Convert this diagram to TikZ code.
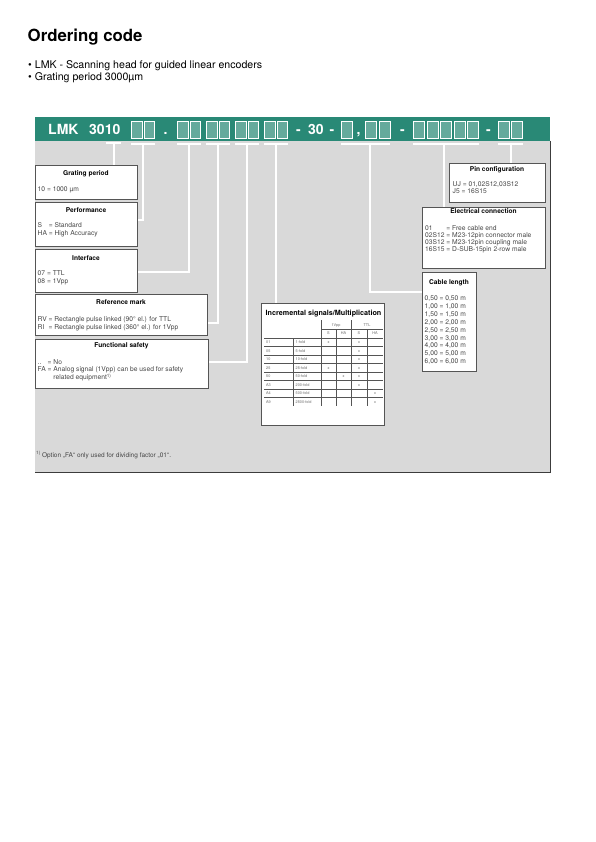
\documentclass[tikz,border=0pt]{standalone}
\usepackage{fontspec}
\setmainfont{TeX Gyre Heros}
\usetikzlibrary{calc}
\definecolor{hdteal}{RGB}{41,137,118}
\definecolor{panelgray}{RGB}{217,217,217}
\definecolor{edgegray}{RGB}{60,60,60}
\definecolor{boxborder}{RGB}{85,85,85}
\definecolor{bodygray}{RGB}{70,70,70}
\definecolor{tabgray}{RGB}{105,105,105}
\newcommand{\bodytab}[1]{\begin{tabular}[t]{@{}l@{\ }l@{}}#1\end{tabular}}
\newcommand{\onetab}[1]{\begin{tabular}[t]{@{}l@{}}#1\end{tabular}}
\newcommand{\fnmark}{\raisebox{2.6pt}{\fontsize{4.6}{5}\selectfont 1)}}
\begin{document}
\begin{tikzpicture}[x=1pt,y=-1pt,
  conn/.style={draw=white,line width=2.2pt},
  hdbox/.style={draw=white,line width=0.9pt,fill=hdteal!72!white,minimum width=10.5pt,minimum height=17.5pt,inner sep=0,anchor=north west},
  hdtxt/.style={font=\bfseries\fontsize{14}{16}\selectfont,text=white,anchor=base west,inner sep=0},
  infobox/.style={draw=boxborder,line width=0.7pt,fill=white,inner sep=0,anchor=north west},
  ttl/.style={font=\bfseries\fontsize{6.6}{7.5}\selectfont,anchor=base,inner sep=0},
  bodytxt/.style={font=\fontsize{6.7}{7.5}\selectfont,text=bodygray,anchor=base west,inner sep=0},
  tabtxt/.style={font=\fontsize{3.8}{4.2}\selectfont,text=tabgray,anchor=base west,inner sep=0},
  tabc/.style={font=\fontsize{3.8}{4.2}\selectfont,text=tabgray,anchor=base,inner sep=0},
  tabline/.style={draw=boxborder,line width=0.45pt}]
\useasboundingbox (0,0) rectangle (595,842);
% title and bullets
\node[anchor=base west,inner sep=0,font=\bfseries\fontsize{16.8}{19}\selectfont] (title) at (27.5,42) {Ordering code};
\node[anchor=base west,inner sep=0,font=\fontsize{10.6}{12}\selectfont] (bul1) at (28,68.3) {\textbullet\ LMK - Scanning head for guided linear encoders};
\node[anchor=base west,inner sep=0,font=\fontsize{10.6}{12}\selectfont] (bul2) at (28,80.3) {\textbullet\ Grating period 3000µm};
% panel and bar
\node[fill=panelgray,inner sep=0,minimum width=515pt,minimum height=331pt,anchor=north west] (panel) at (35,141) {};
\draw[draw=edgegray,line width=1.2pt] (panel.north east) -- (panel.south east) -- (panel.south west);
\node[fill=hdteal,inner sep=0,minimum width=515pt,minimum height=24pt,anchor=north west] (bar) at (35,117) {};
% header text and boxes
\node[hdtxt] (lmk) at (48,135) {LMK};
\node[hdtxt] (num) at (89,135) {3010};
\node[hdbox] (b1) at (131,121) {};
\node[hdbox] (b2) at (143.5,121) {};
\node[hdtxt] (dot) at (163.5,135) {.};
\node[hdbox] (b3) at (177,121) {};
\node[hdbox] (b4) at (189.5,121) {};
\node[hdbox] (b5) at (206,121) {};
\node[hdbox] (b6) at (218.5,121) {};
\node[hdbox] (b7) at (235,121) {};
\node[hdbox] (b8) at (247.5,121) {};
\node[hdbox] (b9) at (264,121) {};
\node[hdbox] (b10) at (276.5,121) {};
\node[hdtxt] (m1) at (296,135) {-};
\node[hdtxt] (thirty) at (308,135) {30};
\node[hdtxt] (m2) at (329.5,135) {-};
\node[hdbox,minimum width=11pt] (c1) at (341,121) {};
\node[hdtxt] (comma) at (356.5,135) {,};
\node[hdbox,minimum width=11pt] (c2) at (365,121) {};
\node[hdbox,minimum width=11pt] (c3) at (378.5,121) {};
\node[hdtxt] (m3) at (400,135) {-};
\node[hdbox,minimum width=11pt] (d1) at (413,121) {};
\node[hdbox,minimum width=11pt] (d2) at (426.5,121) {};
\node[hdbox,minimum width=11pt] (d3) at (440,121) {};
\node[hdbox,minimum width=11pt] (d4) at (453.5,121) {};
\node[hdbox,minimum width=11pt] (d5) at (467,121) {};
\node[hdtxt] (m4) at (486,135) {-};
\node[hdbox,minimum width=11pt] (e1) at (497.5,121) {};
\node[hdbox,minimum width=11pt] (e2) at (511,121) {};
% info boxes (positions)
\coordinate (k10l) at (106,143);
\coordinate (k10r) at (121,143);
\coordinate (v0) at (114,143);
\coordinate (vcab) at (370,143);
\coordinate (vele) at (444,143);
\coordinate (vpin) at (511,143);
\path (35,165) node[infobox,minimum width=102pt,minimum height=34pt] (gp) {};
% connectors
\draw[conn] (k10l) -- (k10r);
\foreach \l/\r/\n in {b1/b2/1,b3/b4/2,b5/b6/3,b7/b8/4,b9/b10/5,c1/c3/6,d1/d5/7,e1/e2/8}{
  \draw[conn] ([yshift=-4.5pt]\l.south west) -- ([yshift=-4.5pt]\r.south east);
  \coordinate (v\n) at ($([yshift=-4.5pt]\l.south west)!0.5!([yshift=-4.5pt]\r.south east)$);
}
\node[infobox,minimum width=102pt,minimum height=44pt] (perf) at (35,202) {};
\node[infobox,minimum width=102pt,minimum height=43pt] (intf) at (35,249) {};
\node[infobox,minimum width=172pt,minimum height=41pt] (refm) at (35,294) {};
\node[infobox,minimum width=173pt,minimum height=49pt] (fs) at (35,339) {};
\node[infobox,minimum width=123pt,minimum height=122pt] (tab) at (261,303) {};
\node[infobox,minimum width=96pt,minimum height=39pt] (pin) at (449,163) {};
\node[infobox,minimum width=123pt,minimum height=61pt] (elec) at (422,207) {};
\node[infobox,minimum width=54pt,minimum height=99pt] (cab) at (422,272) {};
\begin{scope}[on background layer/.style={}]
\end{scope}
\draw[conn] (v0) -- (v0 |- gp.north);
\draw[conn] (v1) |- ([yshift=4pt]perf.east);
\draw[conn] (v2) |- ([yshift=-1.5pt]intf.east);
\draw[conn] (v3) |- ([yshift=-8.5pt]refm.east);
\draw[conn] (v4) |- ([yshift=1.5pt]fs.east);
\draw[conn] (v5) -- (v5 |- tab.north);
\draw[conn] (vcab) |- ([yshift=-20pt]cab.north west);
\draw[conn] (vele) -- (vele |- elec.north);
\draw[conn] (vpin) -- (vpin |- pin.north);
% redraw box borders over connector ends
\foreach \b in {gp,perf,intf,refm,fs,tab,pin,elec,cab}{\draw[draw=boxborder,line width=0.7pt] (\b.north west) rectangle (\b.south east);}
% titles
\node[ttl] (gpt) at (86,176) {Grating period};
\node[ttl] (perft) at (86,212) {Performance};
\node[ttl] (intft) at (86,260) {Interface};
\node[ttl] (refmt) at (121,304.5) {Reference mark};
\node[ttl] (fst) at (121.5,347) {Functional safety};
\node[ttl] (pint) at (497,172) {Pin configuration};
\node[ttl] (elect) at (483.5,214) {Electrical connection};
\node[ttl] (cabt) at (449,284) {Cable length};
% bodies
\node[bodytxt] (gpb) at (37.5,192) {\onetab{10 = 1000 µm}};
\node[bodytxt] (perfb) at (37.5,228) {\bodytab{S & = Standard\\ HA & = High Accuracy}};
\node[bodytxt] (intfb) at (37.5,275.5) {\onetab{07 = TTL\\ 08 = 1Vpp}};
\node[bodytxt] (refmb) at (37.5,321.5) {\bodytab{RV & = Rectangle pulse linked (90° el.) for TTL\\ RI & = Rectangle pulse linked (360° el.) for 1Vpp}};
\node[bodytxt] (fsb) at (37.5,364) {\bodytab{.. & = No\\ FA & = Analog signal (1Vpp) can be used for safety\\ & \phantom{= }related equipment\fnmark}};
\node[bodytxt] (pinb) at (452.5,186.5) {\onetab{UJ = 01,02S12,03S12\\ J5 = 16S15}};
\node[bodytxt,font=\fontsize{6.7}{6.9}\selectfont] (elecb) at (425,230) {\bodytab{01 & = Free cable end\\ 02S12 & = M23-12pin connector male\\ 03S12 & = M23-12pin coupling male\\ 16S15 & = D-SUB-15pin 2-row male}};
\node[bodytxt,font=\fontsize{6.7}{7.9}\selectfont] (cabb) at (424.5,300.5) {\onetab{0,50 = 0,50 m\\ 1,00 = 1,00 m\\ 1,50 = 1,50 m\\ 2,00 = 2,00 m\\ 2,50 = 2,50 m\\ 3,00 = 3,00 m\\ 4,00 = 4,00 m\\ 5,00 = 5,00 m\\ 6,00 = 6,00 m}};
% footnote
\node[anchor=base west,inner sep=0,font=\fontsize{6.5}{7.5}\selectfont,text=bodygray] (fn) at (36,457.5) {\fnmark\ Option „FA“ only used for dividing factor „01“.};
% table
\node[anchor=base,inner sep=0,font=\bfseries\fontsize{7.2}{8}\selectfont] (tabt) at (323.5,315.5) {Incremental signals/Multiplication};
\node[tabc] (h1) at (336,326) {1Vpp};
\node[tabc] (h2) at (367,326) {TTL};
\node[tabc] (s1) at (328.5,334.5) {S};
\node[tabc] (s2) at (343.5,334.5) {HA};
\node[tabc] (s3) at (359,334.5) {S};
\node[tabc] (s4) at (375,334.5) {HA};
\draw[tabline] (321,329) -- (383,329);
\draw[tabline] (264,338) -- (383,338);
\foreach \k in {0,...,6}{\draw[tabline] (264,346.5+8.5*\k) -- (383,346.5+8.5*\k);}
\draw[tabline] (293,338) -- (293,406);
\draw[tabline] (321,320) -- (321,406);
\draw[tabline] (336,329) -- (336,406);
\draw[tabline] (351,320) -- (351,406);
\draw[tabline] (367,329) -- (367,406);
\foreach \c/\f/\ma/\mb [count=\i from 0] in {01/1-fold/328.5/359, 05/5-fold/-1/359, 10/10-fold/-1/359, 25/25-fold/328.5/359, 50/50-fold/343.5/359, A3/200-fold/-1/359, A4/500-fold/-1/375, A9/2500-fold/-1/375}{
  \node[tabtxt] (rc\i) at (266,343.5+8.5*\i) {\c};
  \node[tabtxt] (rf\i) at (295.5,343.5+8.5*\i) {\f};
  \ifdim \ma pt>0pt \node[tabc] (ra\i) at (\ma,343.5+8.5*\i) {x};\fi
  \node[tabc] (rb\i) at (\mb,343.5+8.5*\i) {x};
}
\end{tikzpicture}
\end{document}
